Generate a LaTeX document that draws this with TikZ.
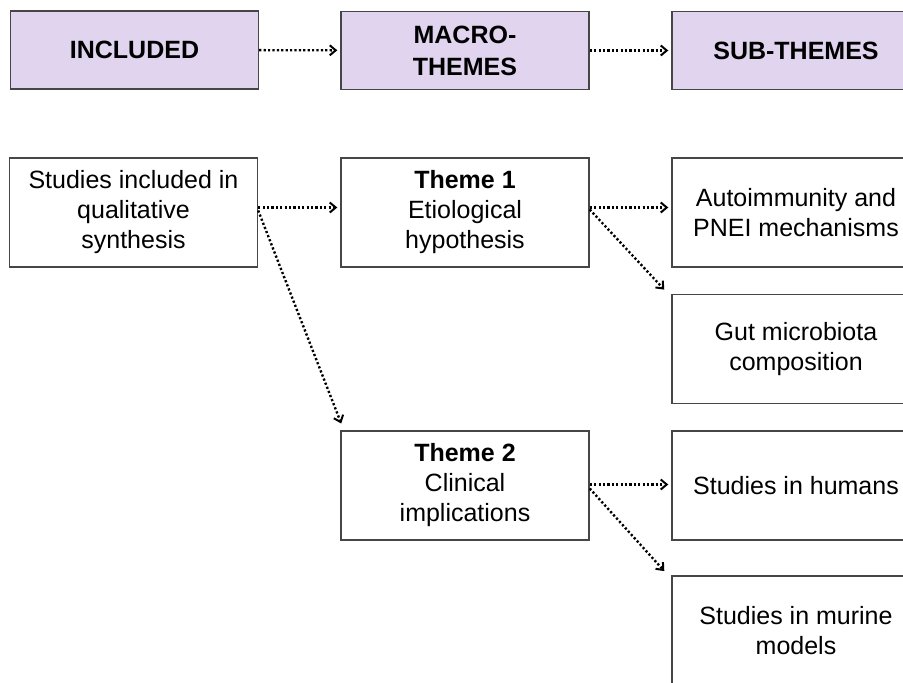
\documentclass[tikz,border=0pt]{standalone}
\usepackage{fontspec}
\setmainfont{Liberation Sans}
\usepackage{tikz}
\usetikzlibrary{arrows.meta}
\definecolor{lavender}{RGB}{224,212,238}
\definecolor{edge}{RGB}{70,70,70}

\begin{document}
\begin{tikzpicture}[x=1pt,y=-1pt,shorten >=3pt,
		-{Straight Barb[length=6pt,width=10pt,line width=2pt]}]
		\tikzstyle{box}=[rectangle,draw=edge,line width=1.4pt,fill=white,minimum width=248pt,minimum height=109pt,align=center,inner sep=2pt,font=\fontsize{25}{30}\selectfont]
		\tikzstyle{head}=[box,fill=lavender,minimum height=78pt,font=\fontsize{25}{32}\selectfont\bfseries]
		\tikzstyle{link}=[line width=2.4pt,dash pattern=on 2.2pt off 2.2pt,draw=black]
		\path[use as bounding box,clip] (0,0) rectangle (903,683);
		% header row
		\node[head] (inc) at (134.5,50) {INCLUDED};
		\node[head] (mac) at (465,50.5) {MACRO-\\THEMES};
		\node[head] (sub) at (796,50.5) {SUB-THEMES};
		% studies and themes
		\node[box] (stu) at (133.5,212.5) {Studies included in\\qualitative\\synthesis};
		\node[box] (th1) at (465,212.5) {\textbf{Theme 1}\\Etiological\\hypothesis};
		\node[box] (th2) at (465,485.5) {\textbf{Theme 2}\\Clinical\\implications};
		% sub-themes
		\node[box] (aut) at (796,212.5) {Autoimmunity and\\PNEI mechanisms};
		\node[box] (gut) at (796,349) {Gut microbiota\\composition};
		\node[box] (hum) at (796,485.5) {Studies in humans};
		\node[box] (mur) at (796,630.5) {Studies in murine\\models};
		% connectors
		\draw[link] (inc) -- (mac);
		\draw[link] (mac) -- (sub);
		\draw[link] ([yshift=5pt]stu.east) -- ([yshift=5pt]th1.west);
		\draw[link] ([yshift=2pt]stu.east) -- ([xshift=2pt,yshift=4pt]th2.north west);
		\draw[link] ([yshift=5pt]th1.east) -- ([yshift=5pt]aut.west);
		\draw[link] ([yshift=3pt]th1.east) -- ([xshift=-5pt,yshift=2pt]gut.north west);
		\draw[link] ([yshift=1pt]th2.east) -- ([yshift=1pt]hum.west);
		\draw[link] ([yshift=-3pt]th2.east) -- ([xshift=-5pt,yshift=2pt]mur.north west);
	\end{tikzpicture}
\end{document}
